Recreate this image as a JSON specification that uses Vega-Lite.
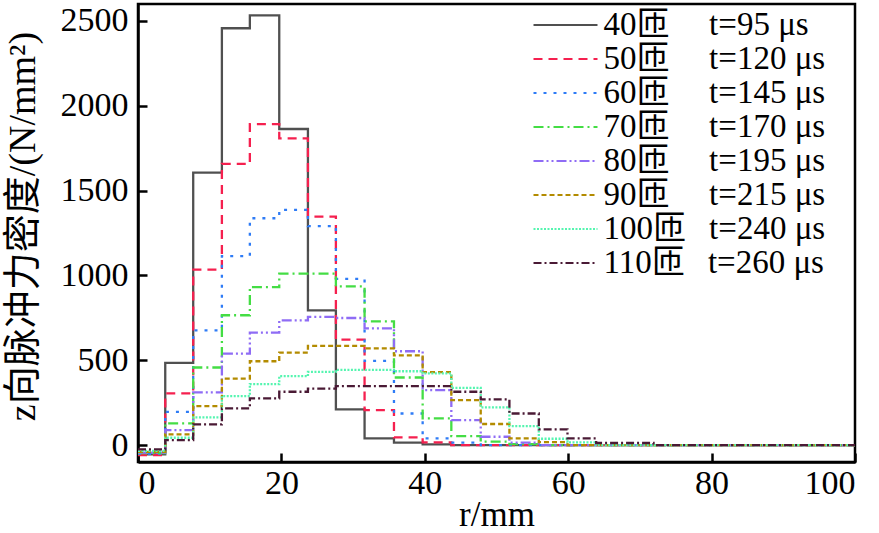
{
  "$schema": "https://vega.github.io/schema/vega-lite/v6.json",
  "autosize": {"type": "none"},
  "padding": {"left": 138, "top": 4, "right": 24, "bottom": 71},
  "width": 717,
  "height": 458,
  "background": "white",
  "data": {"values": [
    {"s":"40匝\u2002 \u00a0\u2009t=95 μs","r":0,"v":-55},{"s":"40匝\u2002 \u00a0\u2009t=95 μs","r":3.8,"v":484},{"s":"40匝\u2002 \u00a0\u2009t=95 μs","r":7.7,"v":1606},{"s":"40匝\u2002 \u00a0\u2009t=95 μs","r":11.7,"v":2457},{"s":"40匝\u2002 \u00a0\u2009t=95 μs","r":15.6,"v":2533},{"s":"40匝\u2002 \u00a0\u2009t=95 μs","r":19.7,"v":1863},{"s":"40匝\u2002 \u00a0\u2009t=95 μs","r":23.7,"v":794},{"s":"40匝\u2002 \u00a0\u2009t=95 μs","r":27.6,"v":210},{"s":"40匝\u2002 \u00a0\u2009t=95 μs","r":31.6,"v":39},{"s":"40匝\u2002 \u00a0\u2009t=95 μs","r":35.7,"v":14},{"s":"40匝\u2002 \u00a0\u2009t=95 μs","r":39.7,"v":4},{"s":"40匝\u2002 \u00a0\u2009t=95 μs","r":43.7,"v":0},{"s":"40匝\u2002 \u00a0\u2009t=95 μs","r":100,"v":0},
    {"s":"50匝\u2002 \u00a0\u2009t=120 μs","r":0,"v":-60},{"s":"50匝\u2002 \u00a0\u2009t=120 μs","r":3.8,"v":304},{"s":"50匝\u2002 \u00a0\u2009t=120 μs","r":7.7,"v":1034},{"s":"50匝\u2002 \u00a0\u2009t=120 μs","r":11.7,"v":1657},{"s":"50匝\u2002 \u00a0\u2009t=120 μs","r":15.6,"v":1892},{"s":"50匝\u2002 \u00a0\u2009t=120 μs","r":19.7,"v":1808},{"s":"50匝\u2002 \u00a0\u2009t=120 μs","r":23.7,"v":1347},{"s":"50匝\u2002 \u00a0\u2009t=120 μs","r":27.6,"v":622},{"s":"50匝\u2002 \u00a0\u2009t=120 μs","r":31.6,"v":206},{"s":"50匝\u2002 \u00a0\u2009t=120 μs","r":35.7,"v":45},{"s":"50匝\u2002 \u00a0\u2009t=120 μs","r":39.7,"v":16},{"s":"50匝\u2002 \u00a0\u2009t=120 μs","r":43.7,"v":0},{"s":"50匝\u2002 \u00a0\u2009t=120 μs","r":100,"v":0},
    {"s":"60匝\u2002 \u00a0\u2009t=145 μs","r":0,"v":-52},{"s":"60匝\u2002 \u00a0\u2009t=145 μs","r":3.8,"v":196},{"s":"60匝\u2002 \u00a0\u2009t=145 μs","r":7.7,"v":676},{"s":"60匝\u2002 \u00a0\u2009t=145 μs","r":11.7,"v":1114},{"s":"60匝\u2002 \u00a0\u2009t=145 μs","r":15.6,"v":1337},{"s":"60匝\u2002 \u00a0\u2009t=145 μs","r":19.7,"v":1386},{"s":"60匝\u2002 \u00a0\u2009t=145 μs","r":23.7,"v":1290},{"s":"60匝\u2002 \u00a0\u2009t=145 μs","r":27.6,"v":980},{"s":"60匝\u2002 \u00a0\u2009t=145 μs","r":31.6,"v":496},{"s":"60匝\u2002 \u00a0\u2009t=145 μs","r":35.7,"v":186},{"s":"60匝\u2002 \u00a0\u2009t=145 μs","r":39.7,"v":39},{"s":"60匝\u2002 \u00a0\u2009t=145 μs","r":43.7,"v":14},{"s":"60匝\u2002 \u00a0\u2009t=145 μs","r":47.8,"v":0},{"s":"60匝\u2002 \u00a0\u2009t=145 μs","r":100,"v":0},
    {"s":"70匝\u2002 \u00a0\u2009t=170 μs","r":0,"v":-48},{"s":"70匝\u2002 \u00a0\u2009t=170 μs","r":3.8,"v":128},{"s":"70匝\u2002 \u00a0\u2009t=170 μs","r":7.7,"v":457},{"s":"70匝\u2002 \u00a0\u2009t=170 μs","r":11.7,"v":765},{"s":"70匝\u2002 \u00a0\u2009t=170 μs","r":15.6,"v":931},{"s":"70匝\u2002 \u00a0\u2009t=170 μs","r":19.7,"v":1010},{"s":"70匝\u2002 \u00a0\u2009t=170 μs","r":27.6,"v":935},{"s":"70匝\u2002 \u00a0\u2009t=170 μs","r":31.6,"v":729},{"s":"70匝\u2002 \u00a0\u2009t=170 μs","r":35.7,"v":398},{"s":"70匝\u2002 \u00a0\u2009t=170 μs","r":39.7,"v":157},{"s":"70匝\u2002 \u00a0\u2009t=170 μs","r":43.7,"v":53},{"s":"70匝\u2002 \u00a0\u2009t=170 μs","r":47.8,"v":20},{"s":"70匝\u2002 \u00a0\u2009t=170 μs","r":51.8,"v":5},{"s":"70匝\u2002 \u00a0\u2009t=170 μs","r":55.9,"v":0},{"s":"70匝\u2002 \u00a0\u2009t=170 μs","r":100,"v":0},
    {"s":"80匝\u2002 \u00a0\u2009t=195 μs","r":0,"v":-45},{"s":"80匝\u2002 \u00a0\u2009t=195 μs","r":3.8,"v":88},{"s":"80匝\u2002 \u00a0\u2009t=195 μs","r":7.7,"v":310},{"s":"80匝\u2002 \u00a0\u2009t=195 μs","r":11.7,"v":539},{"s":"80匝\u2002 \u00a0\u2009t=195 μs","r":15.6,"v":663},{"s":"80匝\u2002 \u00a0\u2009t=195 μs","r":19.7,"v":735},{"s":"80匝\u2002 \u00a0\u2009t=195 μs","r":23.7,"v":755},{"s":"80匝\u2002 \u00a0\u2009t=195 μs","r":27.6,"v":749},{"s":"80匝\u2002 \u00a0\u2009t=195 μs","r":31.6,"v":688},{"s":"80匝\u2002 \u00a0\u2009t=195 μs","r":35.7,"v":553},{"s":"80匝\u2002 \u00a0\u2009t=195 μs","r":39.7,"v":324},{"s":"80匝\u2002 \u00a0\u2009t=195 μs","r":43.7,"v":147},{"s":"80匝\u2002 \u00a0\u2009t=195 μs","r":47.8,"v":49},{"s":"80匝\u2002 \u00a0\u2009t=195 μs","r":51.8,"v":14},{"s":"80匝\u2002 \u00a0\u2009t=195 μs","r":55.9,"v":0},{"s":"80匝\u2002 \u00a0\u2009t=195 μs","r":100,"v":0},
    {"s":"90匝\u2002 \u00a0\u2009t=215 μs","r":0,"v":-40},{"s":"90匝\u2002 \u00a0\u2009t=215 μs","r":3.8,"v":63},{"s":"90匝\u2002 \u00a0\u2009t=215 μs","r":7.7,"v":229},{"s":"90匝\u2002 \u00a0\u2009t=215 μs","r":11.7,"v":392},{"s":"90匝\u2002 \u00a0\u2009t=215 μs","r":15.6,"v":494},{"s":"90匝\u2002 \u00a0\u2009t=215 μs","r":19.7,"v":545},{"s":"90匝\u2002 \u00a0\u2009t=215 μs","r":23.7,"v":584},{"s":"90匝\u2002 \u00a0\u2009t=215 μs","r":31.6,"v":570},{"s":"90匝\u2002 \u00a0\u2009t=215 μs","r":35.7,"v":529},{"s":"90匝\u2002 \u00a0\u2009t=215 μs","r":39.7,"v":430},{"s":"90匝\u2002 \u00a0\u2009t=215 μs","r":43.7,"v":265},{"s":"90匝\u2002 \u00a0\u2009t=215 μs","r":47.8,"v":124},{"s":"90匝\u2002 \u00a0\u2009t=215 μs","r":51.8,"v":39},{"s":"90匝\u2002 \u00a0\u2009t=215 μs","r":55.9,"v":17},{"s":"90匝\u2002 \u00a0\u2009t=215 μs","r":59.9,"v":0},{"s":"90匝\u2002 \u00a0\u2009t=215 μs","r":100,"v":0},
    {"s":"100匝 \u00a0\u2009t=240 μs","r":0,"v":-35},{"s":"100匝 \u00a0\u2009t=240 μs","r":3.8,"v":43},{"s":"100匝 \u00a0\u2009t=240 μs","r":7.7,"v":163},{"s":"100匝 \u00a0\u2009t=240 μs","r":11.7,"v":288},{"s":"100匝 \u00a0\u2009t=240 μs","r":15.6,"v":359},{"s":"100匝 \u00a0\u2009t=240 μs","r":19.7,"v":406},{"s":"100匝 \u00a0\u2009t=240 μs","r":23.7,"v":431},{"s":"100匝 \u00a0\u2009t=240 μs","r":27.6,"v":443},{"s":"100匝 \u00a0\u2009t=240 μs","r":35.7,"v":435},{"s":"100匝 \u00a0\u2009t=240 μs","r":39.7,"v":422},{"s":"100匝 \u00a0\u2009t=240 μs","r":43.7,"v":337},{"s":"100匝 \u00a0\u2009t=240 μs","r":47.8,"v":222},{"s":"100匝 \u00a0\u2009t=240 μs","r":51.8,"v":112},{"s":"100匝 \u00a0\u2009t=240 μs","r":55.9,"v":37},{"s":"100匝 \u00a0\u2009t=240 μs","r":59.9,"v":16},{"s":"100匝 \u00a0\u2009t=240 μs","r":63.9,"v":0},{"s":"100匝 \u00a0\u2009t=240 μs","r":100,"v":0},
    {"s":"110匝 \u00a0\u2009t=260 μs","r":0,"v":-25},{"s":"110匝 \u00a0\u2009t=260 μs","r":3.8,"v":29},{"s":"110匝 \u00a0\u2009t=260 μs","r":7.7,"v":122},{"s":"110匝 \u00a0\u2009t=260 μs","r":11.7,"v":216},{"s":"110匝 \u00a0\u2009t=260 μs","r":15.6,"v":275},{"s":"110匝 \u00a0\u2009t=260 μs","r":19.7,"v":314},{"s":"110匝 \u00a0\u2009t=260 μs","r":23.7,"v":333},{"s":"110匝 \u00a0\u2009t=260 μs","r":27.6,"v":347},{"s":"110匝 \u00a0\u2009t=260 μs","r":43.7,"v":314},{"s":"110匝 \u00a0\u2009t=260 μs","r":47.8,"v":269},{"s":"110匝 \u00a0\u2009t=260 μs","r":51.8,"v":186},{"s":"110匝 \u00a0\u2009t=260 μs","r":55.9,"v":92},{"s":"110匝 \u00a0\u2009t=260 μs","r":59.9,"v":39},{"s":"110匝 \u00a0\u2009t=260 μs","r":63.9,"v":12},{"s":"110匝 \u00a0\u2009t=260 μs","r":71.9,"v":0},{"s":"110匝 \u00a0\u2009t=260 μs","r":100,"v":0}
  ]},
  "mark": {"type": "line", "interpolate": "step-after", "strokeWidth": 2.3},
  "encoding": {
    "x": {"field": "r", "type": "quantitative",
          "scale": {"domain": [0, 100], "nice": false},
          "axis": {"values": [0, 20, 40, 60, 80, 100], "format": "d", "title": "r/mm", "labelPadding": 13, "titlePadding": -3, "titleFontSize": 35}},
    "y": {"field": "v", "type": "quantitative",
          "scale": {"domain": [-100, 2600], "nice": false},
          "axis": {"values": [0, 500, 1000, 1500, 2000, 2500], "format": "d", "title": "z向脉冲力密度/(N/mm²)", "labelPadding": 19, "titlePadding": 18, "titleY": 222, "titleFontSize": 38}},
    "color": {"field": "s", "type": "nominal",
      "scale": {"domain": ["40匝\u2002 \u00a0\u2009t=95 μs","50匝\u2002 \u00a0\u2009t=120 μs","60匝\u2002 \u00a0\u2009t=145 μs","70匝\u2002 \u00a0\u2009t=170 μs","80匝\u2002 \u00a0\u2009t=195 μs","90匝\u2002 \u00a0\u2009t=215 μs","100匝 \u00a0\u2009t=240 μs","110匝 \u00a0\u2009t=260 μs"],
                "range": ["#505050","#f5204f","#2f7cf6","#44dd44","#8f6cf5","#b38b00","#55f5b0","#4a1a35"]},
      "legend": {"title": null, "orient": "none", "legendX": 411, "legendY": 4.5, "symbolType": "M-4,0H4", "symbolSize": 256, "symbolStrokeWidth": 2.2, "labelFontSize": 33, "labelOffset": 21.5, "rowPadding": 0, "padding": 0, "labelLimit": 400, "labelColor": "black"}},
    "strokeDash": {"field": "s", "type": "nominal",
      "scale": {"domain": ["40匝\u2002 \u00a0\u2009t=95 μs","50匝\u2002 \u00a0\u2009t=120 μs","60匝\u2002 \u00a0\u2009t=145 μs","70匝\u2002 \u00a0\u2009t=170 μs","80匝\u2002 \u00a0\u2009t=195 μs","90匝\u2002 \u00a0\u2009t=215 μs","100匝 \u00a0\u2009t=240 μs","110匝 \u00a0\u2009t=260 μs"],
                "range": [[1,0],[9,6],[3,7],[10,4,2,4],[10,3,2,3,2,3],[5,3],[2,1.5],[8,3,2,3]]},
      "legend": {"title": null, "orient": "none", "legendX": 411, "legendY": 4.5, "symbolType": "M-4,0H4", "symbolSize": 256, "symbolStrokeWidth": 2.2, "labelFontSize": 33, "labelOffset": 21.5, "rowPadding": 0, "padding": 0, "labelLimit": 400, "labelColor": "black"}}
  },
  "config": {
    "font": "Liberation Serif, Noto Sans CJK SC",
    "view": {"stroke": "black", "strokeWidth": 2.5},
    "axis": {"grid": false, "domainColor": "black", "domainWidth": 2.5, "tickColor": "black", "tickWidth": 2.5, "tickSize": -9,
             "labelFontSize": 34, "labelColor": "black", "titleFontSize": 34, "titleFontWeight": "normal", "titleColor": "black", "labelFont": "Liberation Serif", "titleFont": "Liberation Serif, Noto Sans CJK SC"},
    "legend": {"labelFont": "Liberation Serif, Noto Sans CJK SC"}
  }
}
